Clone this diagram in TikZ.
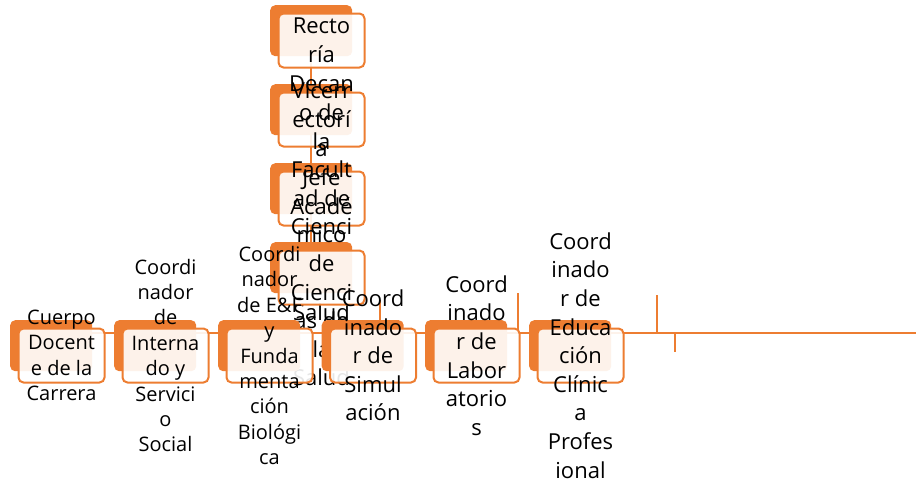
\documentclass[tikz,border=0pt]{standalone}
\usepackage{fontspec}
\setmainfont{Open Sans}
\definecolor{acc}{HTML}{ED7D31}
\pgfdeclarelayer{bg}
\pgfsetlayers{bg,main}
\tikzset{
  backbox/.style={fill=acc, draw=none, rounded corners=5pt, minimum width=82pt, minimum height=51pt, anchor=north west, inner sep=0pt},
  frontbox/.style={fill=white, fill opacity=0.9, draw=acc, draw opacity=1, line width=2pt, rounded corners=5pt, minimum width=86pt, minimum height=54pt, anchor=north west, inner sep=0pt},
  lblbig/.style={align=center, inner sep=0pt, text=black, font=\fontsize{22}{28.6}\selectfont},
  lblsmall/.style={align=center, inner sep=0pt, text=black, font=\fontsize{20}{25.4}\selectfont},
  conn/.style={draw=acc, line width=2.2pt}
}
\begin{document}
\begin{tikzpicture}[x=1pt,y=-1pt]
\useasboundingbox (0,0) rectangle (916,480);
% top column
\node[backbox] (r1b) at (270,5) {};
\node[frontbox] (r1) at (277.5,12.5) {};
\node[lblbig] (t1) at (r1.center) {Recto\\ría};
\node[backbox] (r2b) at (270,84) {};
\node[frontbox] (r2) at (277.5,91.5) {};
\node[lblbig] (t2) at (r2.center) {Vicerr\\ectorí\\a};
\node[backbox] (r3b) at (270,163) {};
\node[frontbox] (r3) at (277.5,170.5) {};
\node[lblbig] (t3) at (r3.center) {Decan\\o de\\la\\Facult\\ad de\\Cienci\\as de\\la\\Salud};
\node[backbox] (r4b) at (270,242) {};
\node[frontbox] (r4) at (277.5,249.5) {};
\node[lblbig] (t4) at (r4.center) {Jefe\\Acadé\\mico\\de\\Cienci\\as de\\la\\Salud};
% bottom row
\node[backbox] (aB) at (10,320) {};
\node[frontbox] (a) at (17.5,327.5) {};
\node[lblsmall] (ta) at (a.center) {Cuerpo\\Docent\\e de la\\Carrera};
\node[backbox] (bB) at (114,320) {};
\node[frontbox] (b) at (121.5,327.5) {};
\node[lblsmall] (tb) at (b.center) {Coordi\\nador\\de\\Interna\\do y\\Servici\\o\\Social};
\node[backbox] (cB) at (218,320) {};
\node[frontbox] (c) at (225.5,327.5) {};
\node[lblsmall] (tc) at (c.center) {Coordi\\nador\\de E\&F\\y\\Funda\\menta\\ción\\Biológi\\ca};
\node[backbox] (dB) at (321.5,320) {};
\node[frontbox] (d) at (329,327.5) {};
\node[lblbig] (td) at (d.center) {Coord\\inado\\r de\\Simul\\ación};
\node[backbox] (eB) at (425,320) {};
\node[frontbox] (e) at (432.5,327.5) {};
\node[lblbig] (te) at (e.center) {Coord\\inado\\r de\\Labor\\atorio\\s};
\node[backbox] (fB) at (529,320) {};
\node[frontbox] (f) at (536.5,327.5) {};
\node[lblbig] (tf) at (f.center) {Coord\\inado\\r de\\Educa\\ción\\Clínic\\a\\Profes\\ional};
% free connector ends
\coordinate (busL) at (51,333);
\coordinate (busR) at (916,333);
\coordinate (v1t) at (380,300);
\coordinate (v1b) at (380,333);
\coordinate (v2t) at (518,293);
\coordinate (v2b) at (518,333);
\coordinate (v3t) at (657,295);
\coordinate (v3b) at (657,333);
\coordinate (v4t) at (675,333);
\coordinate (v4b) at (675,352);
\begin{pgfonlayer}{bg}
\draw[conn] (r1b.south) -- (r2b.north);
\draw[conn] (r2b.south) -- (r3b.north);
\draw[conn] (r3b.south) -- (r4b.north);
\draw[conn] (busL) -- (busR);
\draw[conn] (v1t) -- (v1b);
\draw[conn] (v2t) -- (v2b);
\draw[conn] (v3t) -- (v3b);
\draw[conn] (v4t) -- (v4b);
\end{pgfonlayer}
\end{tikzpicture}
\end{document}
